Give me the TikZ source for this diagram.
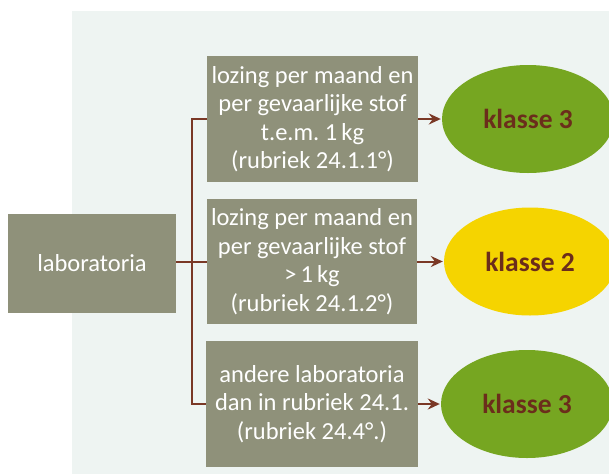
\documentclass[tikz,border=0pt]{standalone}
\usepackage{fontspec}
\setmainfont{Carlito}
\usetikzlibrary{arrows.meta,shapes.geometric}
\definecolor{panel}{HTML}{EEF4F2}
\definecolor{boxfill}{HTML}{8F917A}
\definecolor{lineclr}{HTML}{7A3826}
\definecolor{greenclr}{HTML}{76A621}
\definecolor{yellowclr}{HTML}{F5D400}
\definecolor{klassetxt}{HTML}{6B2D1B}
\tikzset{
  infobox/.style={rectangle, fill=boxfill, text=white, align=center,
    inner sep=0pt, font=\fontsize{24.5}{28.5}\selectfont},
  klasse/.style={ellipse, inner sep=0pt, minimum width=172pt, minimum height=108pt,
    text=klassetxt, font=\fontsize{27.5}{30}\selectfont\bfseries},
  conn/.style={draw=lineclr, line width=2pt},
  arr/.style={conn, -{Stealth[length=12pt,width=11pt,inset=4pt]}, shorten >=1pt}
}
\begin{document}
\begin{tikzpicture}[x=1pt,y=-1pt]
\useasboundingbox (0,0) rectangle (609,474);
\clip (0,0) rectangle (609,474);
% light panel behind the scheme
\fill[panel] (72,11) rectangle (609,474);

\node[infobox, minimum width=168pt, minimum height=99pt] (lab) at (92,263.5) {laboratoria};
\node[infobox, minimum width=211pt, minimum height=126pt] (b1) at (312.5,119)
  {lozing per maand en\\per gevaarlijke stof\\t.e.m.\ 1\,kg\\(rubriek 24.1.1°)};
\node[infobox, minimum width=210pt, minimum height=125pt] (b2) at (312,261.5)
  {lozing per maand en\\per gevaarlijke stof\\>\,1\,kg\\(rubriek 24.1.2°)};
\node[infobox, minimum width=212pt, minimum height=126pt] (b3) at (312,404)
  {andere laboratoria\\dan in rubriek 24.1.\\(rubriek 24.4°.)};

\node[klasse, fill=greenclr] (e1) at (528,119) {klasse 3};
\node[klasse, fill=yellowclr] (e2) at (530,261.5) {klasse 2};
\node[klasse, fill=greenclr] (e3) at (527,404) {klasse 3};

% branching bracket from the source box
\coordinate (bus) at (192,261.5);
\draw[conn] (lab.east |- bus) -- (b2.west);
\draw[conn, line join=miter] (b1.west) -| (bus) |- (b3.west);

% arrows towards the classes
\draw[arr] (b1.east) -- (e1.west);
\draw[arr] (b2.east) -- (e2.west);
\draw[arr] (b3.east) -- (e3.west);
\end{tikzpicture}
\end{document}
